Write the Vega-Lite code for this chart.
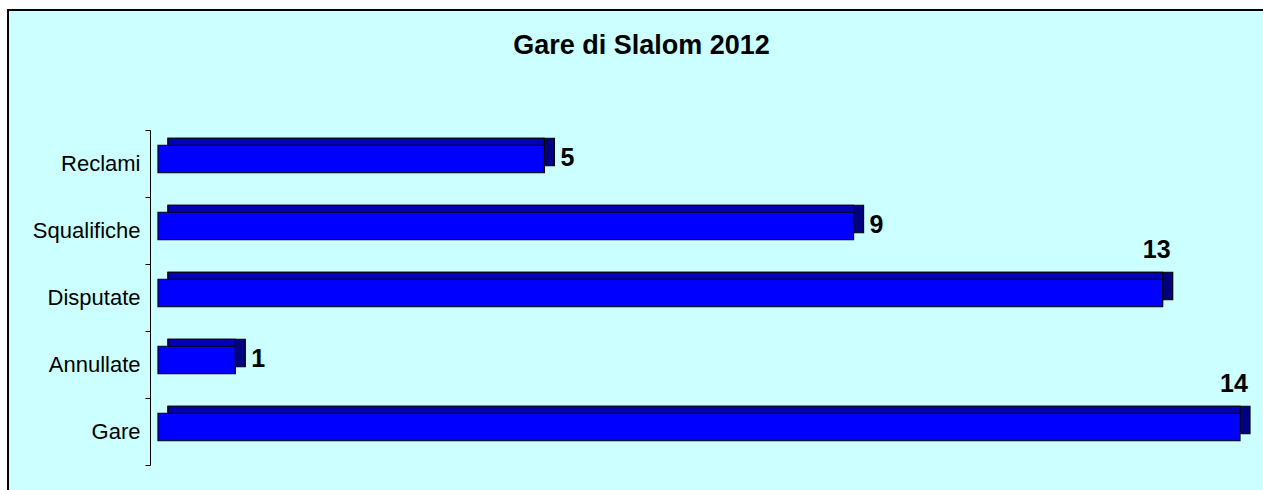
{
  "$schema": "https://vega.github.io/schema/vega-lite/v6.json",
  "width": 1257,
  "height": 482,
  "autosize": {"type": "none"},
  "padding": {"left": 8, "top": 10, "right": 0, "bottom": 0},
  "background": "white",
  "view": {"fill": "#CCFFFF", "stroke": "black", "strokeWidth": 2},
  "config": {"font": "Liberation Sans"},
  "title": {"text": "Gare di Slalom 2012", "fontSize": 27, "fontWeight": "bold", "font": "Liberation Sans", "color": "black", "anchor": "middle", "offset": -61, "dx": 5},
  "data": {"values": [
    {"cat": "Reclami", "v": 5},
    {"cat": "Squalifiche", "v": 9},
    {"cat": "Disputate", "v": 13},
    {"cat": "Annullate", "v": 1},
    {"cat": "Gare", "v": 14}
  ]},
  "encoding": {
    "y": {"field": "cat", "type": "nominal", "sort": ["Reclami", "Squalifiche", "Disputate", "Annullate", "Gare"],
      "scale": {"range": [120, 455], "paddingInner": 0, "paddingOuter": 0},
      "axis": {"title": null, "offset": -142, "domainColor": "black", "domainWidth": 1, "tickColor": "black", "tickSize": 5, "tickBand": "extent", "labelPadding": 5, "labelFontSize": 22, "labelColor": "black", "labelFont": "Liberation Sans", "labelLimit": 0, "grid": false}},
    "x": {"field": "v", "type": "quantitative", "scale": {"domain": [-1.9409, 14.3236], "nice": false, "zero": false}, "axis": null}
  },
  "layer": [
    {
      "mark": {"type": "bar", "color": "#000080", "stroke": "black", "strokeWidth": 1.2, "height": {"band": 0.41}, "xOffset": 10, "x2Offset": 10, "yOffset": -11.5},
      "encoding": {"x2": {"datum": 0}}
    },
    {
      "mark": {"type": "bar", "color": "#0000B8", "stroke": "black", "strokeWidth": 1.2, "height": {"band": 0.41}, "xOffset": 0, "x2Offset": 10, "yOffset": -11.5},
      "encoding": {"x2": {"datum": 0}}
    },
    {
      "mark": {"type": "bar", "color": "#0000FF", "stroke": "black", "strokeWidth": 1.2, "height": {"band": 0.41}, "yOffset": -4.5},
      "encoding": {"x2": {"datum": 0}}
    },
    {
      "transform": [{"filter": "datum.v < 13"}],
      "mark": {"type": "text", "align": "left", "baseline": "middle", "dx": 16, "dy": -6, "fontSize": 25, "fontWeight": "bold", "font": "Liberation Sans", "color": "black"},
      "encoding": {"text": {"field": "v", "type": "quantitative"}}
    },
    {
      "transform": [{"filter": "datum.v >= 13"}],
      "mark": {"type": "text", "align": "center", "baseline": "middle", "dx": -6, "dy": -48, "fontSize": 25, "fontWeight": "bold", "font": "Liberation Sans", "color": "black"},
      "encoding": {"text": {"field": "v", "type": "quantitative"}}
    }
  ]
}
